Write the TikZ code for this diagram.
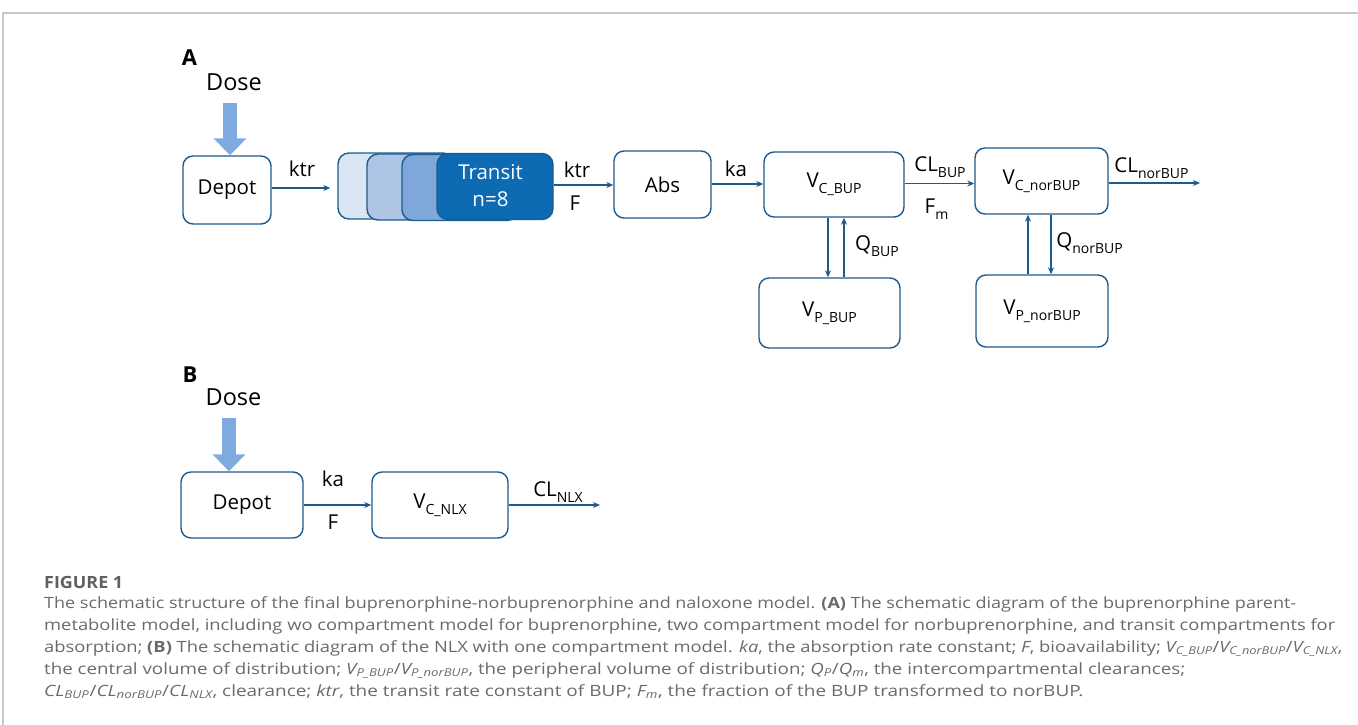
\documentclass[tikz,border=0pt]{standalone}
\usepackage{fontspec}
\setmainfont{Open Sans}
\usetikzlibrary{arrows.meta}
\definecolor{boxblue}{HTML}{1D5A8E}
\definecolor{dosecol}{HTML}{7FAADF}
\definecolor{tone}{HTML}{DAE6F4}
\definecolor{ttwo}{HTML}{AFC5E6}
\definecolor{tthree}{HTML}{7EA7DA}
\definecolor{tfour}{HTML}{0C6BB3}
\definecolor{capgray}{HTML}{6A6A6A}
\definecolor{framegray}{HTML}{C8C8C8}
\newcommand\lsub[1]{\raisebox{-0.3em}{\fontsize{14}{14}\selectfont #1}}
\newcommand\capline[2]{\resizebox{#1pt}{\height}{#2}}
\begin{document}
\begin{tikzpicture}[x=1pt,y=-1pt,
  comp/.style={draw=boxblue,line width=1.4pt,rounded corners=10pt,fill=white,inner sep=0pt,font=\fontsize{20.5}{24}\selectfont},
  tbox/.style={draw=boxblue,line width=1.4pt,rounded corners=11pt,inner sep=0pt,minimum width=116pt,minimum height=66pt},
  flow/.style={draw=boxblue,line width=1.2pt,-{Stealth[length=7pt,width=6pt]}},
  doseflow/.style={draw=dosecol,line width=14pt,-{Triangle[width=32pt,length=17pt]}},
  lab/.style={inner sep=0pt,anchor=base,font=\fontsize{20.5}{24}\selectfont},
  panel/.style={inner sep=0pt,anchor=base,font=\fontsize{22}{24}\selectfont\bfseries},
  doselab/.style={inner sep=0pt,anchor=base,font=\fontsize{23.5}{26}\selectfont},
  captext/.style={inner sep=0pt,anchor=base west,text=capgray,font=\fontsize{15.5}{18}\selectfont}]
\useasboundingbox (0,0) rectangle (1358,725);
\draw[framegray,line width=1.5pt] (3,725) -- (3,13) -- (1358,13);
% ---------- Panel A ----------
\node[panel] (pA) at (189.5,66) {A};
\node[doselab] (doseA) at (234,90) {Dose};
\node[comp,minimum width=88pt,minimum height=68pt] (depotA) at (227,190) {Depot};
\coordinate (doseAtop) at (230,103);
\draw[doseflow] (doseAtop) -- (doseAtop |- depotA.north);
\node[tbox,fill=tone] (t1) at (396,186) {};
\node[tbox,fill=ttwo] (t2) at (425,187) {};
\node[tbox,fill=tthree] (t3) at (460,187.5) {};
\node[tbox,fill=tfour] (t4) at (495,186.5) {};
\node[lab,text=white] (ttext1) at (490.5,179) {Transit};
\node[lab,text=white] (ttext2) at (490.5,206.5) {n=8};
\node[comp,minimum width=97pt,minimum height=67pt] (abs) at (662.5,184.5) {Abs};
\node[comp,minimum width=140pt,minimum height=65pt] (vcbup) at (834,184.5) {V\lsub{C\_BUP}};
\node[comp,minimum width=141pt,minimum height=70pt] (vpbup) at (829.5,313) {V\lsub{P\_BUP}};
\node[comp,minimum width=133pt,minimum height=66pt] (vcnor) at (1041.5,181) {V\lsub{C\_norBUP}};
\node[comp,minimum width=132pt,minimum height=72pt] (vpnor) at (1042,311) {V\lsub{P\_norBUP}};
\coordinate (clnorend) at (1200,183);
% connectors A
\draw[flow] (depotA.east |- 0,188) -- ([xshift=-7pt]t1.west |- 0,188);
\draw[flow] (t4.east |- 0,185) -- (abs.west |- 0,185);
\draw[flow] (abs.east |- 0,184) -- (vcbup.west |- 0,184);
\draw[flow] (vcbup.east |- 0,183.5) -- (vcnor.west |- 0,183.5);
\draw[flow] (vcnor.east |- 0,183) -- (clnorend);
\draw[flow] (vcbup.south -| 828,0) -- (vpbup.north -| 828,0);
\draw[flow] (vpbup.north -| 844,0) -- (vcbup.south -| 844,0);
\draw[flow] (vpnor.north -| 1028,0) -- (vcnor.south -| 1028,0);
\draw[flow] (vcnor.south -| 1051,0) -- (vpnor.north -| 1051,0);
% labels A
\node[lab] (l1) at (302,176.5) {ktr};
\node[lab] (l2) at (577,177) {ktr};
\node[lab] (l3) at (575,210) {F};
\node[lab] (l4) at (736,176) {ka};
\node[lab] (l5) at (940,171) {CL\lsub{BUP}};
\node[lab] (l6) at (936.5,213) {F\lsub{m}};
\node[lab] (l7) at (877,250) {Q\lsub{BUP}};
\node[lab] (l8) at (1151.5,172.5) {CL\lsub{norBUP}};
\node[lab] (l9) at (1089.5,247) {Q\lsub{norBUP}};
% ---------- Panel B ----------
\node[panel] (pB) at (190,382) {B};
\node[doselab] (doseB) at (233.5,405) {Dose};
\node[comp,minimum width=122pt,minimum height=66pt] (depotB) at (242,505) {Depot};
\node[comp,minimum width=136pt,minimum height=66pt] (vcnlx) at (440,505) {V\lsub{C\_NLX}};
\coordinate (doseBtop) at (229,418);
\draw[doseflow] (doseBtop) -- (doseBtop |- depotB.north);
\coordinate (clnlxend) at (600,505);
\draw[flow] (depotB.east) -- (vcnlx.west);
\draw[flow] (vcnlx.east) -- (clnlxend);
\node[lab] (m1) at (333,486.5) {ka};
\node[lab] (m2) at (333,529) {F};
\node[lab] (m3) at (558,496.5) {CL\lsub{NLX}};
% ---------- Caption ----------
\node[captext,font=\fontsize{16.8}{18}\selectfont\bfseries,text=capgray!90!black] (fig) at (44,588) {\capline{79}{FIGURE 1}};
\node[captext] (c1) at (44,608) {\capline{1252}{The schematic structure of the final buprenorphine-norbuprenorphine and naloxone model. \textbf{(A)} The schematic diagram of the buprenorphine parent-}};
\node[captext] (c2) at (44,630) {\capline{1291}{metabolite model, including wo compartment model for buprenorphine, two compartment model for norbuprenorphine, and transit compartments for}};
\node[captext] (c3) at (44,652) {\capline{1298}{absorption; \textbf{(B)} The schematic diagram of the NLX with one compartment model. \textit{ka}, the absorption rate constant; \textit{F}, bioavailability; \textit{V\textsubscript{C\_BUP}}/\textit{V\textsubscript{C\_norBUP}}/\textit{V\textsubscript{C\_NLX}},}};
\node[captext] (c4) at (44,674) {\capline{1141}{the central volume of distribution; \textit{V\textsubscript{P\_BUP}}/\textit{V\textsubscript{P\_norBUP}}, the peripheral volume of distribution; \textit{Q\textsubscript{P}}/\textit{Q\textsubscript{m}}, the intercompartmental clearances;}};
\node[captext] (c5) at (44,696) {\capline{1039}{\textit{CL\textsubscript{BUP}}/\textit{CL\textsubscript{norBUP}}/\textit{CL\textsubscript{NLX}}, clearance; \textit{ktr}, the transit rate constant of BUP; \textit{F\textsubscript{m}}, the fraction of the BUP transformed to norBUP.}};
\end{tikzpicture}
\end{document}
